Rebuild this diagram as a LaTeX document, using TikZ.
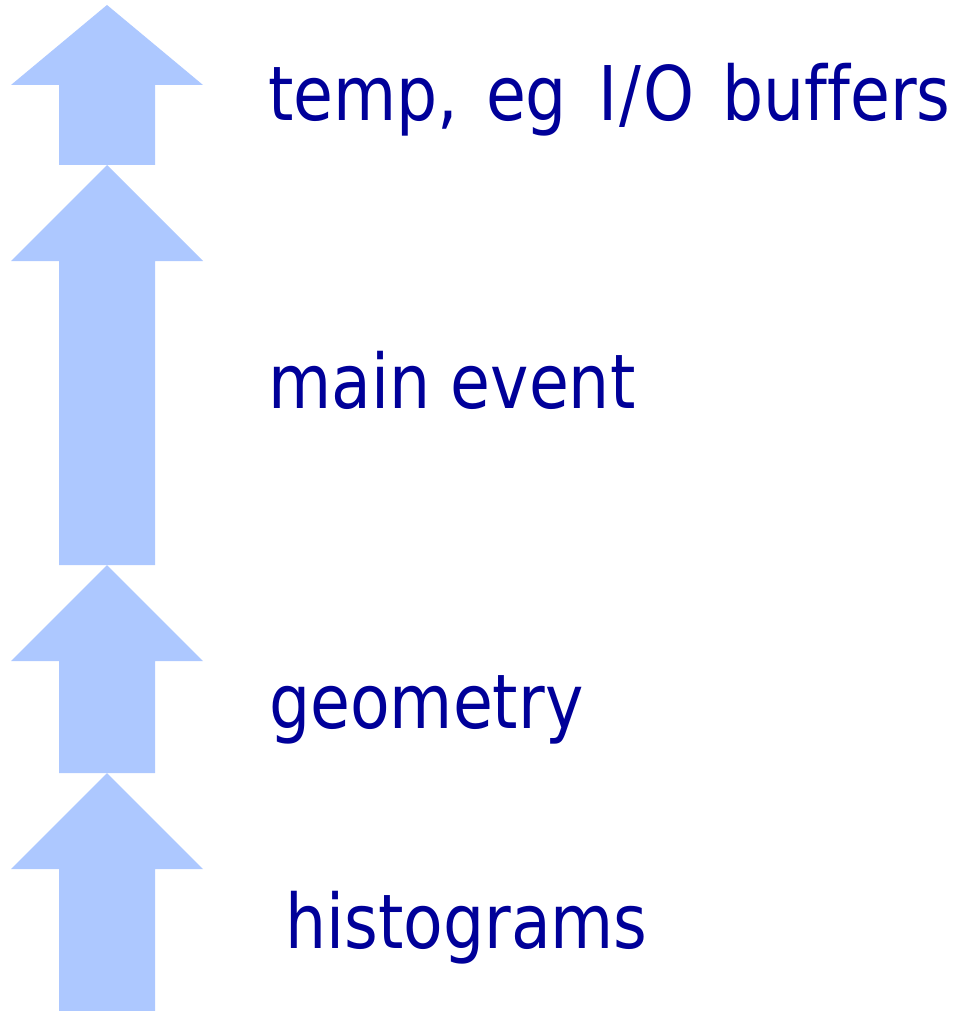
\documentclass[tikz,border=0pt]{standalone}
\usepackage{fontspec}
\setmainfont[FakeStretch=0.86,Ligatures={NoCommon}]{DejaVu Sans}
\definecolor{arrowblue}{RGB}{173,200,255}
\definecolor{textblue}{RGB}{0,0,153}
\begin{document}
\begin{tikzpicture}[x=1pt,y=-1pt,
  arrowshape/.style={fill=arrowblue,draw=none},
  lbl/.style={anchor=base west,inner sep=0pt,text=textblue,font=\fontsize{75.4}{90}\selectfont}]
\useasboundingbox (0,0) rectangle (955,1011);
% arrows (top to bottom)
\fill[arrowshape] (107,5) -- (203,85) -- (155,85) -- (155,165) -- (59,165) -- (59,85) -- (11,85) -- cycle;
\fill[arrowshape] (107,165) -- (203,261) -- (155,261) -- (155,565) -- (59,565) -- (59,261) -- (11,261) -- cycle;
\fill[arrowshape] (107,565) -- (203,661) -- (155,661) -- (155,773) -- (59,773) -- (59,661) -- (11,661) -- cycle;
\fill[arrowshape] (107,773) -- (203,869) -- (155,869) -- (155,1011) -- (59,1011) -- (59,869) -- (11,869) -- cycle;
% labels
\node[lbl] (temp) at (268,121) {\spaceskip=27.6pt temp, eg \kern4pt I\kern2pt/\kern2pt O buffers};
\node[lbl] (main) at (268,408) {main event};
\node[lbl] (geom) at (269,728) {geometry};
\node[lbl] (hist) at (285,948) {histograms};
\end{tikzpicture}
\end{document}
